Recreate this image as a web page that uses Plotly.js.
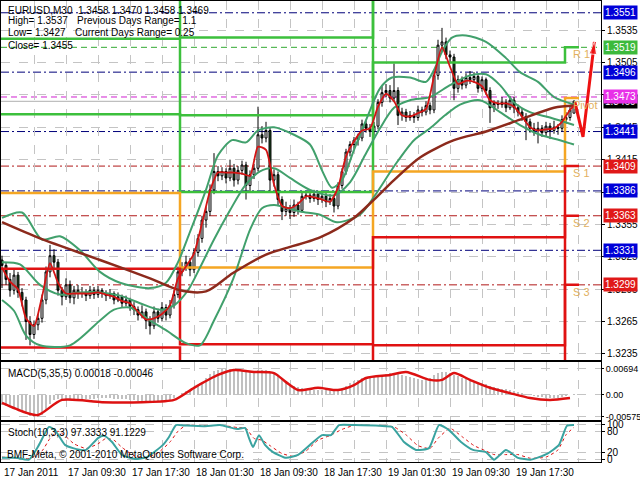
<!DOCTYPE html>
<html><head><meta charset="utf-8">
<script src="https://cdn.plot.ly/plotly-3.0.1.min.js"></script>
<style>html,body{margin:0;padding:0;background:#fff}#chart{width:640px;height:480px}</style>
</head><body><div id="chart"></div>
<script>
// ---------- DATA ----------
const tickBars=[0,16,32,48,64,80,96,112,128];
const tickLabels=["17 Jan 2011","17 Jan 09:30","17 Jan 17:30","18 Jan 01:30","18 Jan 09:30","18 Jan 17:30","19 Jan 01:30","19 Jan 09:30","19 Jan 17:30"];

const opens=[1.3322,1.3317,1.3304,1.3294,1.3308,1.3292,1.3285,1.3265,1.3253,1.3262,
1.3268,1.3285,1.3311,1.3326,1.3320,1.3294,1.3288,1.3299,1.3287,1.3294,
1.3291,1.3292,1.3289,1.3294,1.3290,1.3294,1.3291,1.3289,1.3291,1.3285,
1.3288,1.3282,1.3285,1.3279,1.3276,1.3271,1.3274,1.3266,1.3261,1.3274,
1.3268,1.3278,1.3271,1.3280,1.3290,1.3311,1.3315,1.3320,1.3313,1.3329,
1.3342,1.3359,1.3367,1.3387,1.3404,1.3400,1.3404,1.3398,1.3407,1.3396,
1.3405,1.3410,1.3391,1.3401,1.3407,1.3438,1.3435,1.3442,1.3396,1.3401,
1.3378,1.3367,1.3370,1.3366,1.3373,1.3368,1.3381,1.3382,1.3379,1.3383,
1.3378,1.3381,1.3376,1.3379,1.3372,1.3391,1.3404,1.3422,1.3429,1.3433,
1.3435,1.3448,1.3444,1.3441,1.3446,1.3468,1.3477,1.3479,1.3472,1.3479,
1.3456,1.3459,1.3454,1.3456,1.3454,1.3461,1.3459,1.3465,1.3461,1.3493,
1.3521,1.3524,1.3512,1.3510,1.3481,1.3489,1.3484,1.3491,1.3489,1.3492,
1.3481,1.3489,1.3479,1.3463,1.3467,1.3466,1.3468,1.3463,1.3470,1.3463,
1.3459,1.3455,1.3450,1.3444,1.3442,1.3444,1.3440,1.3446,1.3442,1.3445,
1.3444,1.3452,1.3454,1.3458];
const highs=[1.3326,1.3320,1.3310,1.3313,1.3311,1.3296,1.3288,1.3270,1.3266,1.3272,
1.3290,1.3316,1.3336,1.3332,1.3323,1.3297,1.3305,1.3303,1.3298,1.3299,
1.3297,1.3295,1.3298,1.3297,1.3298,1.3296,1.3294,1.3295,1.3293,1.3292,
1.3290,1.3289,1.3287,1.3283,1.3279,1.3280,1.3277,1.3270,1.3279,1.3277,
1.3283,1.3281,1.3285,1.3294,1.3316,1.3320,1.3326,1.3324,1.3333,1.3346,
1.3363,1.3371,1.3392,1.3421,1.3409,1.3408,1.3407,1.3415,1.3411,1.3409,
1.3414,1.3413,1.3405,1.3411,1.3464,1.3446,1.3450,1.3445,1.3406,1.3404,
1.3381,1.3376,1.3373,1.3378,1.3376,1.3385,1.3386,1.3385,1.3387,1.3386,
1.3385,1.3384,1.3383,1.3382,1.3394,1.3407,1.3425,1.3432,1.3436,1.3439,
1.3452,1.3451,1.3448,1.3450,1.3471,1.3483,1.3485,1.3484,1.3504,1.3482,
1.3463,1.3462,1.3460,1.3459,1.3465,1.3464,1.3469,1.3468,1.3497,1.3526,
1.3537,1.3528,1.3516,1.3513,1.3493,1.3492,1.3495,1.3497,1.3496,1.3494,
1.3492,1.3491,1.3482,1.3470,1.3470,1.3473,1.3471,1.3474,1.3473,1.3466,
1.3462,1.3458,1.3453,1.3449,1.3450,1.3447,1.3450,1.3449,1.3451,1.3448,
1.3456,1.3459,1.3465,1.3470];
const lows=[1.3296,1.3299,1.3288,1.3290,1.3287,1.3279,1.3248,1.3243,1.3249,1.3257,
1.3264,1.3281,1.3306,1.3314,1.3289,1.3280,1.3285,1.3282,1.3281,1.3286,
1.3287,1.3284,1.3286,1.3286,1.3287,1.3287,1.3284,1.3286,1.3281,1.3283,
1.3278,1.3279,1.3275,1.3271,1.3266,1.3268,1.3258,1.3253,1.3258,1.3264,
1.3265,1.3266,1.3268,1.3277,1.3287,1.3307,1.3312,1.3307,1.3310,1.3325,
1.3338,1.3352,1.3363,1.3383,1.3395,1.3396,1.3393,1.3395,1.3390,1.3392,
1.3401,1.3378,1.3385,1.3397,1.3404,1.3430,1.3431,1.3385,1.3390,1.3372,
1.3359,1.3363,1.3360,1.3362,1.3364,1.3366,1.3378,1.3375,1.3376,1.3373,
1.3375,1.3371,1.3373,1.3366,1.3369,1.3388,1.3401,1.3418,1.3425,1.3428,
1.3432,1.3440,1.3436,1.3437,1.3443,1.3464,1.3473,1.3468,1.3469,1.3447,
1.3451,1.3450,1.3451,1.3449,1.3451,1.3455,1.3456,1.3457,1.3458,1.3489,
1.3515,1.3508,1.3505,1.3470,1.3477,1.3480,1.3481,1.3485,1.3486,1.3477,
1.3478,1.3475,1.3449,1.3459,1.3462,1.3463,1.3459,1.3461,1.3458,1.3455,
1.3451,1.3433,1.3440,1.3437,1.3430,1.3436,1.3437,1.3434,1.3439,1.3438,
1.3441,1.3448,1.3451,1.3458];
const closes=[1.3317,1.3304,1.3294,1.3308,1.3292,1.3285,1.3265,1.3253,1.3262,1.3268,
1.3285,1.3311,1.3326,1.3320,1.3294,1.3288,1.3299,1.3287,1.3294,1.3291,
1.3292,1.3289,1.3294,1.3290,1.3294,1.3291,1.3289,1.3291,1.3285,1.3288,
1.3282,1.3285,1.3279,1.3276,1.3271,1.3274,1.3266,1.3261,1.3274,1.3268,
1.3278,1.3271,1.3280,1.3290,1.3311,1.3315,1.3320,1.3313,1.3329,1.3342,
1.3359,1.3367,1.3387,1.3404,1.3400,1.3404,1.3398,1.3407,1.3396,1.3405,
1.3410,1.3391,1.3401,1.3407,1.3438,1.3435,1.3442,1.3396,1.3401,1.3378,
1.3367,1.3370,1.3366,1.3373,1.3368,1.3381,1.3382,1.3379,1.3383,1.3378,
1.3381,1.3376,1.3379,1.3372,1.3391,1.3404,1.3422,1.3429,1.3433,1.3435,
1.3448,1.3444,1.3441,1.3446,1.3468,1.3477,1.3479,1.3472,1.3479,1.3456,
1.3459,1.3454,1.3456,1.3454,1.3461,1.3459,1.3465,1.3461,1.3493,1.3521,
1.3524,1.3512,1.3510,1.3481,1.3489,1.3484,1.3491,1.3489,1.3492,1.3481,
1.3489,1.3479,1.3463,1.3467,1.3466,1.3468,1.3463,1.3470,1.3463,1.3459,
1.3455,1.3450,1.3444,1.3442,1.3444,1.3440,1.3446,1.3442,1.3445,1.3444,
1.3452,1.3454,1.3461,1.3469];

// fast MA (red)
const fastX=[0,2,4,6,8,10,12,14,16,18,20,22,24,26,28,30,32,34,36,38,40,42,44,46,48,50,52,54,56,58,60,62,64,66,68,70,72,74,76,78,80,82,84,86,88,90,92,94,96,98,100,102,104,106,108,110,112,114,116,118,120,122,124,126,128,130,132,134,136,138,140,142,143];
const fastY=[1.3315,1.3302,1.3295,1.3268,1.3261,1.3288,1.3319,1.3301,1.3291,1.3291,1.3291,1.3291,1.3292,1.3290,1.3288,1.3284,1.3282,1.3274,1.3267,1.3268,1.3272,1.3280,1.3305,1.3316,1.3328,1.3356,1.3386,1.3403,1.3403,1.3403,1.3402,1.3400,1.3427,1.3424,1.3392,1.3372,1.3370,1.3374,1.3381,1.3380,1.3378,1.3376,1.3389,1.3418,1.3432,1.3442,1.3444,1.3464,1.3476,1.3469,1.3456,1.3455,1.3458,1.3462,1.3492,1.3519,1.3501,1.3485,1.3488,1.3487,1.3483,1.3470,1.3467,1.3467,1.3464,1.3455,1.3445,1.3442,1.3443,1.3444,1.3450,1.3461,1.3465];
// slow MA (brown)
const slowX=[0,9.5,24.5,37,44.5,51,57.75,66,79.5,88,93,98,104.5,113,121,129.5,138,143];
const slowY=[1.3357,1.3342,1.3322,1.3305,1.3294,1.3293,1.3310,1.3327,1.3343,1.3361,1.3378,1.3396,1.3417,1.3433,1.3441,1.3452,1.3463,1.3465];
// Bollinger bands
const upperX=[0,5,10,14.5,19.5,24.5,29.5,37,41,44,47,51,54,57.5,61,64,68,73,77,80,82.5,85,88,91.5,94.5,97.5,102,106,108,110,112.5,116,121,126,129.5,134,138,143];
const upperY=[1.3361,1.3366,1.3341,1.3344,1.3331,1.3311,1.3301,1.3296,1.3301,1.3320,1.3348,1.3387,1.3419,1.3433,1.3431,1.3442,1.3445,1.3438,1.3429,1.3405,1.3389,1.3396,1.3424,1.3456,1.3481,1.3491,1.3491,1.3487,1.3498,1.3515,1.3528,1.3530,1.3524,1.3509,1.3496,1.3487,1.3473,1.3466];
const middleX=[0,4.5,9.5,14.5,19.5,24.5,29.5,34.5,39.5,43,46.5,49.5,53,57,60.75,64.5,68,72,77,83,87,90.75,94.5,98,102,107,112,117,121,124.5,128,132,137,143];
const middleY=[1.3320,1.3318,1.3299,1.3290,1.3292,1.3292,1.3289,1.3282,1.3276,1.3280,1.3294,1.3315,1.3341,1.3368,1.3391,1.3404,1.3407,1.3398,1.3387,1.3382,1.3394,1.3419,1.3444,1.3463,1.3470,1.3473,1.3484,1.3493,1.3494,1.3484,1.3468,1.3459,1.3454,1.3447];
const lowerX=[0,3,6,9.5,17,24.5,28,32,37,41,46,49.5,53,57.75,62,65,68,74.5,79.5,83.75,89.5,93.25,98.25,103,107,110.75,114.5,119.5,124.5,129.5,134.5,139.5,143];
const lowerY=[1.3285,1.3275,1.3252,1.3243,1.3243,1.3266,1.3276,1.3278,1.3266,1.3257,1.3245,1.3243,1.3266,1.3304,1.3350,1.3370,1.3373,1.3367,1.3364,1.3357,1.3364,1.3382,1.3410,1.3433,1.3444,1.3456,1.3466,1.3470,1.3459,1.3447,1.3438,1.3433,1.3429];

// daily pivot levels (day1..day4, last repeated to end)
const pivX=[-0.25,44.5,92.75,140.75,144.25];
const R3=[1.3600,1.3528,1.3667,1.3629,1.3629];
const R2=[1.3527,1.3456,1.3566,1.3583,1.3583];
const R1=[1.3457,1.3385,1.3505,1.3519,1.3519];
const PP=[1.3384,1.3315,1.3404,1.3472,1.3472];
const S1=[1.3314,1.3244,1.3343,1.3409,1.3409];
const S2=[1.3241,1.3174,1.3243,1.3363,1.3363];
const S3=[1.3171,1.3103,1.3181,1.3299,1.3299];

// horizontal level lines with right-hand price boxes
const levelVals=[1.3551,1.3519,1.3496,1.3473,1.3441,1.3409,1.3386,1.3363,1.3331,1.3299];
const levelKinds=["b","g","b","m","b","r","b","r","b","r"];
const bidPrice=1.3469;
const axisTicks=[1.3235,1.3265,1.3295,1.3325,1.3355,1.3385,1.3415,1.3445,1.3475,1.3505,1.3535];

// forecast arrow
const fcX=[143.25,145.25,148.1];
const fcY=[1.3468,1.3436,1.3524];

// MACD(5,35,5)
const macdMain=[-0.0026,-0.0028,-0.0030,-0.0033,-0.0038,-0.0042,-0.0050,-0.0056,-0.0058,-0.0057,
-0.0052,-0.0040,-0.0025,-0.0014,-0.0010,-0.0012,-0.0011,-0.0013,-0.0012,-0.0012,
-0.0011,-0.0011,-0.0010,-0.0010,-0.0009,-0.0009,-0.0009,-0.0009,-0.0010,-0.0010,
-0.0011,-0.0011,-0.0013,-0.0014,-0.0016,-0.0016,-0.0018,-0.0019,-0.0017,-0.0017,
-0.0015,-0.0015,-0.0012,-0.0007,0.0000,0.0006,0.0010,0.0013,0.0018,0.0025,
0.0034,0.0045,0.0055,0.0063,0.0066,0.0068,0.0069,0.0069,0.0068,0.0068,
0.0067,0.0065,0.0064,0.0063,0.0066,0.0066,0.0065,0.0060,0.0058,0.0052,
0.0045,0.0038,0.0030,0.0025,0.0020,0.0018,0.0016,0.0015,0.0014,0.0013,
0.0013,0.0012,0.0012,0.0011,0.0013,0.0018,0.0025,0.0032,0.0037,0.0040,
0.0045,0.0046,0.0046,0.0047,0.0050,0.0053,0.0056,0.0057,0.0058,0.0055,
0.0053,0.0050,0.0047,0.0044,0.0042,0.0040,0.0041,0.0045,0.0052,0.0058,
0.0061,0.0060,0.0057,0.0052,0.0049,0.0046,0.0043,0.0041,0.0038,0.0035,
0.0032,0.0030,0.0025,0.0022,0.0019,0.0017,0.0015,0.0013,0.0011,0.0009,
0.0006,0.0003,0.0000,-0.0002,-0.0004,-0.0006,-0.0007,-0.0008,-0.0008,-0.0007,
-0.0005,-0.0003,0.0000,0.0002];
const macdSigX=[0,5.5,9,15,25,35,43,48,54,58,63,68,71,74,79,84,88,91,97,101,107,110,113,117,122,127,132,137,142];
const macdSigY=[-0.0021,-0.0045,-0.0053,-0.0013,-0.0019,-0.0019,-0.0013,0.0019,0.0053,0.0066,0.0061,0.0058,0.0034,0.0013,0.0019,0.0013,0.0026,0.0045,0.0053,0.0061,0.0040,0.0040,0.0058,0.0040,0.0019,0.0005,-0.0008,-0.0013,-0.0008];

// Stochastic(10,3,3)
const stMainX=[0,3.5,6.75,9.25,11.75,13.25,15.75,17.75,21,24,25.5,27.5,30,33.25,36.25,40.25,41.75,43.5,45.5,50.5,54.5,58.75,60.75,61.75,62.75,64.25,65.75,67.75,71,74,77,80,82.25,84.25,88.25,94.5,97.5,100.5,103.5,106.75,109.25,111.75,114.75,117.75,121,123,126,129,132.25,136.25,139.25,141.25,143];
const stMainY=[6,6,1,42,92,83,42,33,28,61,67,50,14,3,8,42,64,97,96,94,97,86,89,61,36,69,42,22,6,14,42,69,69,97,97,95,92,50,28,33,97,83,50,28,22,1,28,6,1,17,42,95,97];
const stSigX=[0,4,7,10,12,14,16,18,21,24,26,28,30,33,36,39,42,44,46,51,55,59,61,63,65,67,70,73,76,79,82,85,88,95,98,101,104,107,109,112,115,118,121,123,126,129,132,136,139,141,143];
const stSigY=[8,5,4,25,60,80,65,45,32,45,60,55,35,12,6,20,50,80,96,95,96,90,88,60,55,40,18,10,25,55,68,85,96,95,92,70,40,32,60,88,65,40,25,15,15,15,5,8,28,70,91];

// ---------- LAYOUT HELPERS (pixel -> paper) ----------
const W=640,H=480;
const fx=p=>p/W, fy=p=>1-p/H;
const dashL="6px,4px", dashDot="8px,3px,2px,3px";
const kindStyle={b:{c:"#00007a",box:"#0000d8",d:dashDot},g:{c:"#33aa33",box:"#3cba3c",d:dashL},m:{c:"#d020d0",box:"#e830e8",d:dashL},r:{c:"#b01818",box:"#e01818",d:dashDot}};

const data=[];
const stepLine=(y,c)=>({type:"scatter",mode:"lines",x:pivX,y:y,xaxis:"x",yaxis:"y",line:{color:c,width:2.5,shape:"hv"},hoverinfo:"skip"});
[R3,R2,R1].forEach(a=>data.push(stepLine(a,"#3cc03c")));
data.push(stepLine(PP,"#f5a623"));
[S1,S2,S3].forEach(a=>data.push(stepLine(a,"#e01212")));
const band=(x,y)=>({type:"scatter",mode:"lines",x:x,y:y,xaxis:"x",yaxis:"y",line:{color:"#41a06c",width:2,shape:"spline",smoothing:0.8},hoverinfo:"skip"});
data.push(band(upperX,upperY),band(middleX,middleY),band(lowerX,lowerY));
data.push({type:"scatter",mode:"lines",x:slowX,y:slowY,xaxis:"x",yaxis:"y",line:{color:"#8c2a1c",width:2.5,shape:"spline",smoothing:0.8},hoverinfo:"skip"});
data.push({type:"scatter",mode:"lines",x:fastX,y:fastY,xaxis:"x",yaxis:"y",line:{color:"#d41414",width:1.8,shape:"spline",smoothing:0.6},hoverinfo:"skip"});
const bars=opens.map((_,i)=>i);
data.push({type:"candlestick",x:bars,open:opens,high:highs,low:lows,close:closes,xaxis:"x",yaxis:"y",
  increasing:{line:{color:"#000000",width:1},fillcolor:"#ffffff"},
  decreasing:{line:{color:"#000000",width:1},fillcolor:"#1f4a22"},whiskerwidth:0,hoverinfo:"skip"});
data.push({type:"scatter",mode:"lines+markers",x:fcX,y:fcY,xaxis:"x",yaxis:"y",line:{color:"#ee1111",width:3},
  marker:{symbol:"arrow",size:[0,0,13],angleref:"previous",color:"#ee1111"},hoverinfo:"skip",cliponaxis:false});
data.push({type:"bar",x:bars,y:macdMain,xaxis:"x",yaxis:"y2",marker:{color:"#c0c0c0"},width:0.5,hoverinfo:"skip"});
data.push({type:"scatter",mode:"lines",x:macdSigX,y:macdSigY,xaxis:"x",yaxis:"y2",line:{color:"#dd1111",width:2.5,shape:"spline",smoothing:0.7},hoverinfo:"skip"});
data.push({type:"scatter",mode:"lines",x:stSigX,y:stSigY,xaxis:"x",yaxis:"y3",line:{color:"#dd1111",width:1,dash:"dot",shape:"spline",smoothing:0.5},hoverinfo:"skip"});
data.push({type:"scatter",mode:"lines",x:stMainX,y:stMainY,xaxis:"x",yaxis:"y3",line:{color:"#3aa3a0",width:2,shape:"spline",smoothing:0.5},hoverinfo:"skip"});

const shapes=[];
levelVals.forEach((v,i)=>{const s=kindStyle[levelKinds[i]];
  shapes.push({type:"line",xref:"x domain",x0:0,x1:1,yref:"y",y0:v,y1:v,line:{color:s.c,width:1,dash:s.d},layer:"below"});});
shapes.push({type:"line",xref:"x domain",x0:0,x1:1,yref:"y",y0:bidPrice,y1:bidPrice,line:{color:"#b0b0b0",width:1},layer:"below"});

const ann=[];
const txt=(t,x,y,opt)=>Object.assign({text:t,xref:"paper",yref:"paper",x:fx(x),y:fy(y),xanchor:"left",yanchor:"middle",showarrow:false,font:{size:10,color:"#000"}},opt||{});
ann.push(txt("EURUSD,M30  1.3458 1.3470 1.3458 1.3469",6,10));
ann.push(txt("High= 1.3537",6,21));
ann.push(txt("Previous Days Range= 1.1",75,21));
ann.push(txt("Low= 1.3427",6,33));
ann.push(txt("Current Days Range= 0.25",73,33));
ann.push(txt("Close= 1.3455",6,45));
ann.push(txt("MACD(5,35,5) 0.00018 -0.00046",6,373));
ann.push(txt("Stoch(10,3,3) 97.3333 91.1229",6,432));
ann.push(txt("BMF-Meta, © 2001-2010 MetaQuotes Software Corp.",5,454));
tickBars.forEach((b,i)=>ann.push({text:tickLabels[i],xref:"x",yref:"paper",x:b,y:fy(472),xanchor:"left",yanchor:"middle",showarrow:false,font:{size:10,color:"#000"}}));
const box=(v,t,bg)=>({text:t,xref:"paper",yref:"y",x:fx(603),y:v,xanchor:"left",yanchor:"middle",showarrow:false,bgcolor:bg,borderpad:1,font:{size:10,color:"#fff"}});
ann.push(box(bidPrice,bidPrice.toFixed(4),"#000000"));
levelVals.forEach((v,i)=>ann.push(box(v,v.toFixed(4),kindStyle[levelKinds[i]].box)));
const lvlLbl=(t,v)=>({text:t,xref:"x",yref:"y",x:142.3,y:v,yshift:-7,xanchor:"left",yanchor:"middle",showarrow:false,font:{size:11,color:"#e2b060"}});
ann.push(lvlLbl("R 1",R1[4]),lvlLbl("Pivot",PP[4]),lvlLbl("S 1",S1[4]),lvlLbl("S 2",S2[4]),lvlLbl("S 3",S3[4]));

const gridC="#c4c4c4";
const yCommon={side:"right",anchor:"x",showline:true,mirror:true,linecolor:"#000",linewidth:1,zeroline:false,
  ticks:"outside",ticklen:3,tickcolor:"#000",tickfont:{size:10,color:"#000"},showgrid:true,gridcolor:gridC,griddash:"dash",gridwidth:1,fixedrange:true};
const layout={
  width:W,height:H,margin:{l:0,r:0,t:0,b:0},paper_bgcolor:"#fff",plot_bgcolor:"#fff",showlegend:false,
  font:{family:"Liberation Sans, Arial, sans-serif",size:10,color:"#000"},
  boxgap:0.3,bargap:0,
  xaxis:{domain:[fx(1),fx(601)],range:[-0.25,149.75],anchor:"y3",tickmode:"array",tickvals:[0,8,16,24,32,40,48,56,64,72,80,88,96,104,112,120,128,136,144],
    showticklabels:false,ticks:"",showgrid:true,gridcolor:gridC,griddash:"dash",zeroline:false,showline:true,mirror:"all",linecolor:"#000",rangeslider:{visible:false},fixedrange:true},
  yaxis:Object.assign({},yCommon,{domain:[fy(360),fy(1)],range:[1.32294,1.35619],tickmode:"array",tickvals:axisTicks,ticktext:axisTicks.map(v=>v.toFixed(4))}),
  yaxis2:Object.assign({},yCommon,{domain:[fy(420),fy(362)],range:[-0.00661,0.00872],tickmode:"array",tickvals:[0.00694,0,-0.00575],ticktext:["0.00694","0.00","-0.00575"],tickfont:{size:9,color:"#000"},ticklen:2}),
  yaxis3:Object.assign({},yCommon,{domain:[fy(462),fy(422)],range:[-5.6,105.6],tickmode:"array",tickvals:[100,80,20,0],ticktext:["100","80","20","0"]}),
  shapes:shapes,annotations:ann
};
Plotly.newPlot("chart",data,layout,{staticPlot:true,displayModeBar:false});
</script></body></html>
